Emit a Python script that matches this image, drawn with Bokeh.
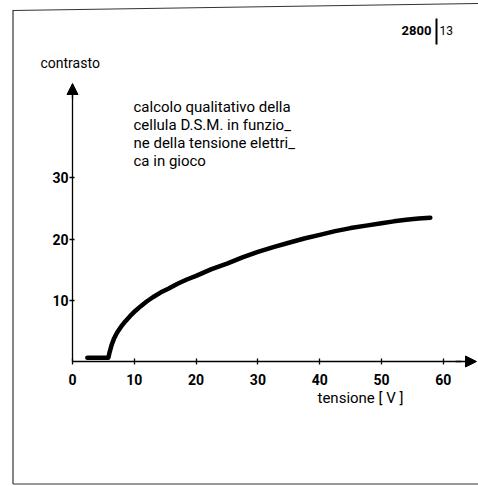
from bokeh.plotting import figure
from bokeh.models import Range1d, FixedTicker, Label, Arrow, NormalHead
from bokeh.embed import file_html
from bokeh.resources import INLINE

# ---- data ----
tensione = [2.4, 5.8, 6.0, 6.3, 6.7, 7.2, 7.8, 8.5, 9.3, 10.2, 11.0, 12.0, 13.0,
            14.3, 15.5, 17.0, 18.5, 20.0, 22.5, 25.0, 27.5, 30.0, 32.5, 35.0,
            37.5, 40.0, 42.5, 45.0, 47.5, 50.0, 52.0, 54.0, 56.0, 57.9]
contrasto = [0.6, 0.6, 1.5, 2.6, 3.7, 4.7, 5.6, 6.5, 7.4, 8.3, 9.0, 9.8, 10.5,
             11.3, 11.9, 12.7, 13.4, 14.0, 15.1, 16.0, 17.0, 17.9, 18.7, 19.4,
             20.1, 20.7, 21.3, 21.8, 22.2, 22.6, 22.9, 23.15, 23.35, 23.5]
x_ticks = [0, 10, 20, 30, 40, 50, 60]
y_ticks = [10, 20, 30]
note_lines = ["calcolo  qualitativo della",
              "cellula  D.S.M.  in  funzio_",
              "ne della tensione elettri_",
              "ca  in  gioco"]

# ---- layout helpers (page pixel -> data) ----
X0, KX = 72.0, 6.18   # page x of x=0, px per unit
Y0, KY = 361.0, 6.12  # page y of y=0, px per unit
W, H = 478, 486


def dx(ix):
    return (ix - X0) / KX


def dy(iy):
    return (Y0 - iy) / KY


FONT = "Roboto"

p = figure(width=W, height=H, output_backend="svg", toolbar_location=None,
           x_range=Range1d(dx(0), dx(W)), y_range=Range1d(dy(H), dy(0)),
           min_border=0, min_border_left=0, min_border_right=0,
           min_border_top=0, min_border_bottom=0)
p.outline_line_color = None
p.grid.visible = False
p.background_fill_color = "white"
p.border_fill_color = "white"

# axes at the origin
xa = p.xaxis[0]
ya = p.yaxis[0]
xa.fixed_location = 0
ya.fixed_location = 0
xa.bounds = (0, 63)
ya.bounds = (0, 44)
xa.ticker = FixedTicker(ticks=x_ticks)
ya.ticker = FixedTicker(ticks=y_ticks)
xa.minor_tick_line_color = None
ya.minor_tick_line_color = None
for ax in (xa, ya):
    ax.axis_line_color = "black"
    ax.axis_line_width = 1.3
    ax.major_tick_line_color = "black"
    ax.major_tick_line_width = 1.3
    ax.major_label_text_font = FONT
    ax.major_label_text_font_style = "bold"
    ax.major_label_text_font_size = "14px"
    ax.major_label_text_color = "black"
xa.major_tick_in = 3
xa.major_tick_out = 3
xa.major_label_standoff = 9
ya.major_tick_in = 2
ya.major_tick_out = 3
ya.major_label_standoff = 1

p.add_layout(Arrow(end=NormalHead(size=11, fill_color="black", line_color="black"),
                   x_start=62, y_start=0, x_end=dx(476), y_end=0,
                   line_color="black", line_width=1.3))
p.add_layout(Arrow(end=NormalHead(size=11, fill_color="black", line_color="black"),
                   x_start=0, y_start=43, x_end=0, y_end=dy(83),
                   line_color="black", line_width=1.3))

# curve
p.line(tensione, contrasto, line_color="black", line_width=4.5, line_cap="round",
       line_join="round")

# page border
p.segment(x0=[dx(12.5), dx(12.5), dx(12)], y0=[dy(10), dy(483.5), dy(10)],
          x1=[dx(12.5), dx(478), dx(478)], y1=[dy(483.5), dy(483.5), dy(3)],
          line_color="#333333", line_width=1.2)
# "2800 | 13" separator
p.segment(x0=[dx(436)], y0=[dy(18)], x1=[dx(436)], y1=[dy(44)],
          line_color="black", line_width=2)

# texts
p.add_layout(Label(x=dx(40), y=dy(70), text="contrasto", text_font=FONT,
                   text_font_size="14px", text_color="black"))
p.add_layout(Label(x=dx(317), y=dy(406), text="tensione  [ V ]", text_font=FONT,
                   text_font_size="15px", text_color="black"))
p.add_layout(Label(x=dx(401), y=dy(34.5), text="2800", text_font=FONT,
                   text_font_style="bold", text_font_size="13px", text_color="black"))
p.add_layout(Label(x=dx(439), y=dy(34.5), text="13", text_font=FONT,
                   text_font_size="12px", text_color="black"))
for i, line in enumerate(note_lines):
    p.add_layout(Label(x=dx(133), y=dy(115 + 18.3 * i), text=line, text_font=FONT,
                       text_font_size="15px", text_color="black"))

open("out.html", "w").write(file_html(p, INLINE))
